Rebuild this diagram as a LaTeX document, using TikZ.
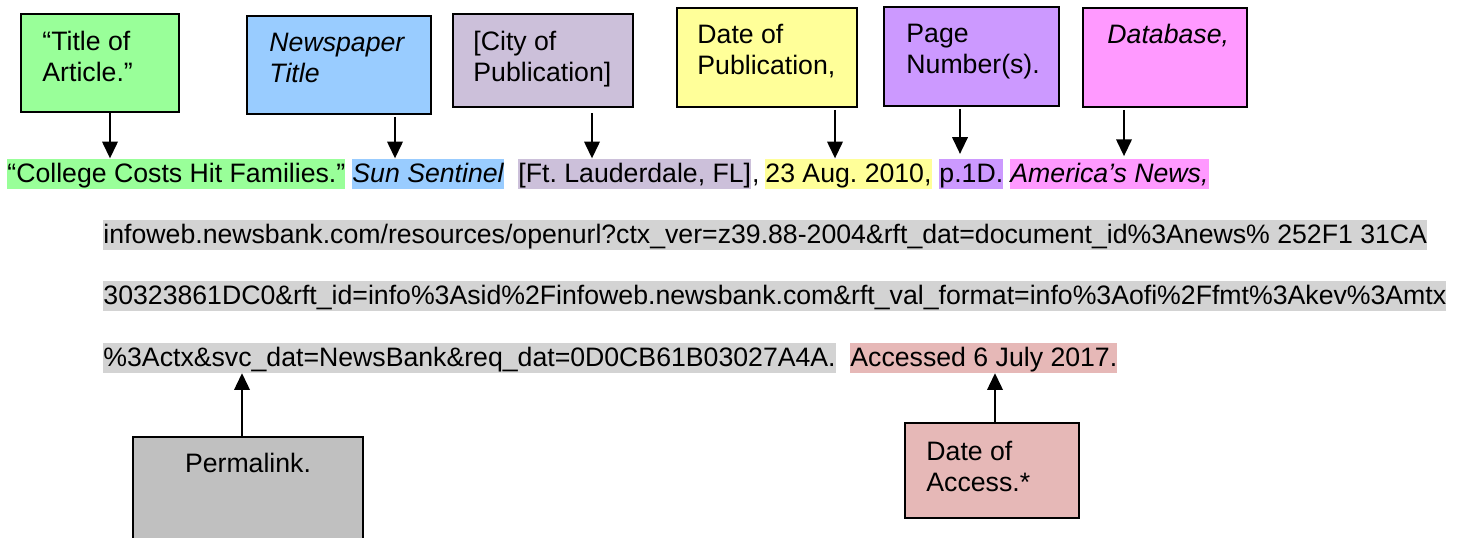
\documentclass[tikz,border=0pt]{standalone}
\usepackage{fontspec}
\setmainfont{Liberation Sans}
\setsansfont{Liberation Sans}
\definecolor{titlegreen}{RGB}{153,255,153}
\definecolor{paperblue}{RGB}{153,204,255}
\definecolor{citylilac}{RGB}{204,192,218}
\definecolor{dateyellow}{RGB}{255,255,153}
\definecolor{pageviolet}{RGB}{204,153,255}
\definecolor{basepink}{RGB}{255,153,255}
\definecolor{urlgray}{RGB}{211,211,211}
\definecolor{linkgray}{RGB}{192,192,192}
\definecolor{accessrose}{RGB}{230,184,183}
\tikzset{every picture/.style={/utils/exec={\sffamily\fontsize{12}{14}\selectfont\frenchspacing}}}
\usetikzlibrary{calc}
\usetikzlibrary{fit, arrows.meta}

\begin{document}
\begin{tikzpicture}[x=0.45pt, y=-0.45pt,
  box/.style={draw, line width=0.7pt, inner sep=0pt},
  boxtext/.style={anchor=north west, inner sep=0pt, align=left},
  hl/.style={anchor=base west, inner sep=0pt, text height=10.9pt, text depth=2.6pt},
  arr/.style={-{Triangle[width=7pt,length=7.5pt]}, line width=0.75pt}]

  \useasboundingbox (0,0) rectangle (1462,538);

  % label boxes on top
  \node (boxtitle) [box, fill=titlegreen, fit={(21,14) (179,112)}] {};
  \node (boxpaper) [box, fill=paperblue, fit={(247,16) (431,114)}] {};
  \node (boxcity) [box, fill=citylilac, fit={(453,14) (633,107)}] {};
  \node (boxdate) [box, fill=dateyellow, fit={(677,8) (857,107)}] {};
  \node (boxpage) [box, fill=pageviolet, fit={(884,7) (1059,106)}] {};
  \node (boxbase) [box, fill=basepink, fit={(1083,8) (1247,107)}] {};

  \node (txttitle) [boxtext] at (42,31) {“Title of\\Article.”};
  \node (txtpaper) [boxtext] at (269,33) {\itshape Newspaper\\\itshape Title};
  \node (txtcity) [boxtext] at (473,31) {[City of\\Publication]};
  \node (txtdate) [boxtext] at (697,24) {Date of\\Publication,};
  \node (txtpage) [boxtext] at (906,24) {Page\\Number(s).};
  \node (txtbase) [boxtext] at (1107,24) {\itshape Database,};

  % the citation
  \node (hltitle) [hl, fill=titlegreen] at (7,183) {“College Costs Hit Families.”};
  \node (hlpaper) [hl, fill=paperblue] at (352,183) {\itshape Sun Sentinel\ };
  \node (hlcity) [hl, fill=citylilac] at (518,183) {[Ft. Lauderdale, FL]};
  \node (comma) [hl] at (hlcity.base east) {,};
  \node (hldate) [hl, fill=dateyellow] at (765,183) {23 Aug. 2010,};
  \node (hlpage) [hl, fill=pageviolet] at (939,183) {p.1D.};
  \node (hlbase) [hl, fill=basepink] at (1010,183) {\itshape America’s News,};

  \node (hlurla) [hl, fill=urlgray] at (103,244) {infoweb.newsbank.com/resources/openurl?ctx\_ver=z39.88-2004\&rft\_dat=document\_id\%3Anews\% 252F1 31CA};
  \node (hlurlb) [hl, fill=urlgray] at (103,305) {30323861DC0\&rft\_id=info\%3Asid\%2Finfoweb.newsbank.com\&rft\_val\_format=info\%3Aofi\%2Ffmt\%3Akev\%3Amtx};
  \node (hlurlc) [hl, fill=urlgray] at (103,367) {\%3Actx\&svc\_dat=NewsBank\&req\_dat=0D0CB61B03027A4A.};
  \node (hlaccess) [hl, fill=accessrose] at (850,367) {Accessed 6 July 2017.};

  % label boxes below
  \node (boxlink) [box, fill=linkgray, fit={(133,437) (363,560)}] {};
  \node (boxaccess) [box, fill=accessrose, fit={(905,423) (1079,518)}] {};
  \node (txtlink) [boxtext, anchor=north] at (248,453) {Permalink.};
  \node (txtaccess) [boxtext] at (926,441) {Date of\\Access.*};

  % arrows
  \coordinate (atitle) at (110,0);
  \coordinate (apaper) at (395,0);
  \coordinate (acity) at (592,0);
  \coordinate (adate) at (835,0);
  \coordinate (apage) at (960,0);
  \coordinate (abase) at (1124,0);
  \coordinate (alink) at (242,0);
  \coordinate (aaccess) at (995,0);

  \draw [arr] (boxtitle.south -| atitle) -- (hltitle.north -| atitle);
  \draw [arr, shorten <=1pt] (boxpaper.south -| apaper) -- (hlpaper.north -| apaper);
  \draw [arr, shorten <=2.5pt] (boxcity.south -| acity) -- (hlcity.north -| acity);
  \draw [arr, shorten <=1pt] (boxdate.south -| adate) -- (hldate.north -| adate);
  \draw [arr, shorten <=1pt, shorten >=2pt] (boxpage.south -| apage) -- (hlpage.north -| apage);
  \draw [arr, shorten <=1pt, shorten >=1pt] (boxbase.south -| abase) -- (hlbase.north -| abase);
  \draw [arr] (boxlink.north -| alink) -- (hlurlc.south -| alink);
  \draw [arr] (boxaccess.north -| aaccess) -- (hlaccess.south -| aaccess);

\end{tikzpicture}
\end{document}
